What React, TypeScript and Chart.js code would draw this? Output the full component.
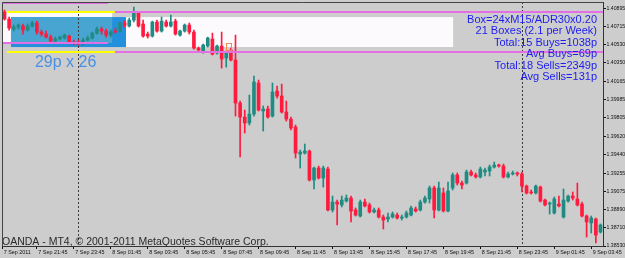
import React, { useEffect, useRef } from "react";
import { Chart, registerables } from "chart.js";

Chart.register(...registerables);

// ---- OHLC data, one entry per M15 bar (7 Sep 2011 20:00 -> 9 Sep 2011 04:15) ----
const opens = [
  1.40856, 1.40786, 1.40687, 1.40707, 1.40717, 1.40677, 1.40717, 1.40747, 1.40657, 1.40637,
  1.40607, 1.40568, 1.40588, 1.40598, 1.40617, 1.40558, 1.40558, 1.40538, 1.40578, 1.40598,
  1.40647, 1.40687, 1.40667, 1.40627, 1.40667, 1.40667, 1.40747, 1.40717, 1.40776, 1.40846,
  1.40737, 1.40637, 1.40617, 1.40757, 1.40667, 1.40757, 1.40717, 1.40766, 1.40627, 1.40667,
  1.40727, 1.40657, 1.40498, 1.40468, 1.40518, 1.40588, 1.40448, 1.40518, 1.40399, 1.40478,
  1.40379, 1.39951, 1.39812, 1.39753, 1.39842, 1.4015, 1.39872, 1.39892, 1.39822, 1.40071,
  1.40021, 1.39862, 1.39792, 1.39713, 1.39444, 1.39454, 1.39474, 1.39186, 1.39305, 1.39206,
  1.39295, 1.38888, 1.38967, 1.38938, 1.38977, 1.39007, 1.38888, 1.38828, 1.38967, 1.38938,
  1.38868, 1.38888, 1.38818, 1.38798, 1.38818, 1.38838, 1.38808, 1.38818, 1.38838, 1.38898,
  1.38888, 1.38967, 1.38997, 1.39107, 1.38888, 1.39057, 1.38878, 1.39107, 1.39236, 1.39156,
  1.39156, 1.39266, 1.39236, 1.39216, 1.39266, 1.39275, 1.39315, 1.39335, 1.39325, 1.39216,
  1.39246, 1.39256, 1.39246, 1.39126, 1.39067, 1.39057, 1.39116, 1.38987, 1.38947, 1.38858,
  1.38947, 1.38818, 1.38977, 1.39027, 1.38997, 1.38947, 1.38828, 1.38759, 1.38798, 1.38669,
];
const highs = [
  1.40876, 1.40806, 1.40727, 1.40737, 1.40737, 1.40737, 1.40766, 1.40766, 1.40677, 1.40667,
  1.40627, 1.40607, 1.40617, 1.40637, 1.40627, 1.40578, 1.40578, 1.40598, 1.40617, 1.40657,
  1.40707, 1.40707, 1.40687, 1.40677, 1.40697, 1.40757, 1.40766, 1.40796, 1.40906, 1.40856,
  1.40776, 1.40657, 1.40766, 1.40776, 1.40806, 1.40776, 1.40826, 1.40786, 1.40677, 1.40737,
  1.40747, 1.40677, 1.40508, 1.40538, 1.40607, 1.40647, 1.40528, 1.40657, 1.40458, 1.40498,
  1.40627, 1.39971, 1.39882, 1.40031, 1.4022, 1.4018, 1.39922, 1.39922, 1.4015, 1.4012,
  1.4014, 1.39971, 1.39812, 1.39733, 1.39484, 1.39544, 1.39484, 1.39315, 1.39325, 1.39325,
  1.39315, 1.39027, 1.38987, 1.39027, 1.39037, 1.39027, 1.38908, 1.38987, 1.38997, 1.38957,
  1.38908, 1.38908, 1.38838, 1.38858, 1.38868, 1.38858, 1.38838, 1.38878, 1.38928, 1.38918,
  1.38987, 1.39027, 1.39126, 1.39126, 1.39166, 1.39107, 1.39166, 1.39256, 1.39256, 1.39176,
  1.39285, 1.39285, 1.39256, 1.39315, 1.39305, 1.39335, 1.39365, 1.39345, 1.39345, 1.39266,
  1.39275, 1.39266, 1.39266, 1.39136, 1.39087, 1.39136, 1.39126, 1.38997, 1.38967, 1.39017,
  1.39027, 1.39097, 1.39037, 1.39067, 1.39156, 1.38967, 1.38838, 1.38828, 1.38808, 1.38749,
];
const lows = [
  1.40776, 1.40677, 1.40667, 1.40687, 1.40637, 1.40667, 1.40707, 1.40637, 1.40617, 1.40598,
  1.40548, 1.40558, 1.40578, 1.40588, 1.40538, 1.40528, 1.40528, 1.40528, 1.40568, 1.40588,
  1.40637, 1.40637, 1.40607, 1.40607, 1.40647, 1.40657, 1.40707, 1.40707, 1.40757, 1.40707,
  1.40607, 1.40598, 1.40607, 1.40657, 1.40657, 1.40707, 1.40707, 1.40627, 1.40617, 1.40657,
  1.40637, 1.40488, 1.40468, 1.40448, 1.40508, 1.40429, 1.40438, 1.40299, 1.40309, 1.40369,
  1.39822, 1.39415, 1.39653, 1.39733, 1.39822, 1.39872, 1.39673, 1.39802, 1.39812, 1.40001,
  1.39852, 1.39772, 1.39683, 1.39405, 1.39305, 1.39444, 1.39176, 1.39097, 1.39196, 1.39116,
  1.38878, 1.38868, 1.38739, 1.38918, 1.38967, 1.38769, 1.38828, 1.38818, 1.38918, 1.38858,
  1.38858, 1.38808, 1.38699, 1.38769, 1.38808, 1.38798, 1.38788, 1.38808, 1.38828, 1.38868,
  1.38878, 1.38957, 1.38957, 1.38808, 1.38878, 1.38868, 1.38868, 1.39087, 1.39136, 1.39097,
  1.39146, 1.39226, 1.39206, 1.39206, 1.39226, 1.39226, 1.39305, 1.39315, 1.39206, 1.39206,
  1.39236, 1.39226, 1.39067, 1.39047, 1.39047, 1.39047, 1.38967, 1.38928, 1.38848, 1.38848,
  1.38918, 1.38808, 1.38967, 1.38987, 1.38928, 1.38818, 1.38619, 1.38659, 1.3856, 1.38659,
];
const closes = [
  1.40786, 1.40697, 1.40707, 1.40727, 1.40677, 1.40717, 1.40747, 1.40657, 1.40637, 1.40607,
  1.40568, 1.40588, 1.40607, 1.40627, 1.40558, 1.40548, 1.40538, 1.40578, 1.40598, 1.40647,
  1.40687, 1.40667, 1.40627, 1.40657, 1.40657, 1.40747, 1.40727, 1.40776, 1.40846, 1.40717,
  1.40617, 1.40617, 1.40757, 1.40667, 1.40766, 1.40717, 1.40757, 1.40637, 1.40667, 1.40727,
  1.40657, 1.40498, 1.40478, 1.40528, 1.40598, 1.40438, 1.40518, 1.40389, 1.40448, 1.40379,
  1.39951, 1.39812, 1.39753, 1.39842, 1.4016, 1.39882, 1.39892, 1.39812, 1.40061, 1.40021,
  1.39862, 1.39792, 1.39703, 1.39454, 1.39464, 1.39474, 1.39186, 1.39305, 1.39206, 1.39305,
  1.38888, 1.38967, 1.38947, 1.38987, 1.39007, 1.38878, 1.38838, 1.38967, 1.38928, 1.38868,
  1.38888, 1.38818, 1.38788, 1.38818, 1.38848, 1.38808, 1.38818, 1.38858, 1.38908, 1.38878,
  1.38967, 1.39007, 1.39107, 1.38888, 1.39107, 1.38878, 1.39077, 1.39236, 1.39156, 1.39136,
  1.39266, 1.39236, 1.39216, 1.39295, 1.39285, 1.39315, 1.39335, 1.39325, 1.39216, 1.39246,
  1.39256, 1.39246, 1.39126, 1.39057, 1.39057, 1.39126, 1.38977, 1.38938, 1.38957, 1.38997,
  1.38928, 1.38987, 1.39027, 1.39007, 1.38938, 1.38828, 1.38769, 1.38808, 1.38639, 1.38739,
];

// ---- axes ----
const yTickValues = [
  1.40895, 1.40715, 1.4053, 1.4035, 1.40165, 1.39985, 1.39805,
  1.3962, 1.3944, 1.39255, 1.39075, 1.3889, 1.3871, 1.3853,
];
const xTickBars = [-0.5, 7, 15, 23, 31, 39, 47, 55, 63, 71, 79, 87, 95, 103, 111, 119, 127];
const xTickLabels = [
  "7 Sep 2011", "7 Sep 21:45", "7 Sep 23:45", "8 Sep 01:45", "8 Sep 03:45", "8 Sep 05:45",
  "8 Sep 07:45", "8 Sep 09:45", "8 Sep 11:45", "8 Sep 13:45", "8 Sep 15:45", "8 Sep 17:45",
  "8 Sep 19:45", "8 Sep 21:45", "8 Sep 23:45", "9 Sep 01:45", "9 Sep 03:45",
];

// ---- box indicator objects (bar index / price) ----
const boxBars = [1.4, 26.3];
const boxPrices = [1.40806, 1.40508];
const prevBoxBars = [-0.6, 23.3];
const prevBoxPrices = [1.40846, 1.40548];
const extensionBars = [26.3, 97.1];
const prevLineBars = [-0.6, 22.4];
const prevLinePrices = [1.40946, 1.40548];
const entryYellowBars = [0.5, 23.9];
const entryPinkBars = [23.9, 131];
const entryPrices = [1.40856, 1.40458];
const separatorBars = [16, 112];
const markerBar = [48.7];
const markerPrices = [1.40548, 1.40478];
const boxLabel = "29p x 26";
const statsLines = [
  "Box=24xM15/ADR30x0.20",
  "21 Boxes (2.1 per Week)",
  "Total:15 Buys=1038p",
  "Avg Buys=69p",
  "Total:18 Sells=2349p",
  "Avg Sells=131p",
];
const footerText = "OANDA - MT4, \u00A9 2001-2011 MetaQuotes Software Corp.";

// ---- styles ----
const BG = "#cdcdcd";
const BULL = "#1f8c84";
const BEAR = "#ff1a3e";
const PINK = "#e46fe4";
const YELLOW = "#ffff00";
const WHITE = "#fdfafd";
const BLUE = "#2290dc";
const BLUE_LIGHT = "#48a4d0";
const FONT = "'Liberation Sans', Arial, sans-serif";

const overlay = {
  id: "mt4overlay",
  beforeDraw(chart: any) {
    const ctx = chart.ctx;
    ctx.save();
    ctx.fillStyle = BG;
    ctx.fillRect(0, 0, chart.width, chart.height);
    ctx.restore();
  },
  beforeDatasetsDraw(chart: any) {
    const { ctx, chartArea: a, scales } = chart;
    const X = (v: number) => scales.x.getPixelForValue(v);
    const Y = (v: number) => scales.y.getPixelForValue(v);
    ctx.save();
    ctx.beginPath();
    ctx.rect(a.left, a.top, a.right - a.left, a.bottom - a.top);
    ctx.clip();
    const rect = (bars: number[], prices: number[], color: string) => {
      ctx.fillStyle = color;
      ctx.fillRect(X(bars[0]), Y(prices[0]), X(bars[1]) - X(bars[0]), Y(prices[1]) - Y(prices[0]));
    };
    rect(prevBoxBars, prevBoxPrices, WHITE);
    rect(boxBars, boxPrices, BLUE);
    rect([boxBars[0], prevBoxBars[1]], [boxPrices[0], prevBoxPrices[1]], BLUE_LIGHT);
    rect(extensionBars, boxPrices, WHITE);
    // period separators
    ctx.strokeStyle = "#3a3a3a";
    ctx.lineWidth = 1;
    ctx.setLineDash([2, 2]);
    separatorBars.forEach((b) => {
      const x = Math.round(X(b)) + 0.5;
      ctx.beginPath();
      ctx.moveTo(x, a.top);
      ctx.lineTo(x, a.bottom);
      ctx.stroke();
    });
    ctx.restore();
  },
  afterDatasetsDraw(chart: any) {
    const { ctx, chartArea: a, scales } = chart;
    const X = (v: number) => scales.x.getPixelForValue(v);
    const Y = (v: number) => scales.y.getPixelForValue(v);
    ctx.save();
    ctx.beginPath();
    ctx.rect(a.left, a.top, a.right - a.left, a.bottom - a.top);
    ctx.clip();
    const hline = (bars: number[], price: number, color: string) => {
      ctx.strokeStyle = color;
      ctx.lineWidth = 2;
      ctx.beginPath();
      const y = Math.round(Y(price));
      ctx.moveTo(X(bars[0]), y);
      ctx.lineTo(X(bars[1]), y);
      ctx.stroke();
    };
    prevLinePrices.forEach((p) => hline(prevLineBars, p, PINK));
    entryPrices.forEach((p) => hline(entryYellowBars, p, YELLOW));
    entryPrices.forEach((p) => hline(entryPinkBars, p, PINK));
    // sell marker
    ctx.strokeStyle = "#f08a50";
    ctx.lineWidth = 1;
    const mx = Math.round(X(markerBar[0]));
    ctx.strokeRect(mx - 2.5, Math.round(Y(markerPrices[0])) + 0.5, 5, Y(markerPrices[1]) - Y(markerPrices[0]));
    // box label
    ctx.fillStyle = "#4a8fe3";
    ctx.font = `16px ${FONT}`;
    ctx.textBaseline = "alphabetic";
    ctx.textAlign = "left";
    ctx.fillText(boxLabel, X(boxBars[0]) + 24, Y(boxPrices[1]) + 20);
    // stats text
    ctx.fillStyle = "#1c1cf0";
    ctx.font = `11px ${FONT}`;
    ctx.textAlign = "right";
    statsLines.forEach((t, i) => {
      ctx.fillText(t, a.right - 6, a.top + 20.7 + i * 11.46);
    });
    // footer
    ctx.fillStyle = "#2a2a2a";
    ctx.font = `10.5px ${FONT}`;
    ctx.textAlign = "left";
    ctx.fillText(footerText, a.left, a.bottom - 1.5);
    ctx.restore();
    // frame top/left
    ctx.save();
    ctx.strokeStyle = "#444";
    ctx.lineWidth = 1;
    ctx.beginPath();
    ctx.moveTo(a.left + 0.5, a.bottom);
    ctx.lineTo(a.left + 0.5, a.top + 0.5);
    ctx.lineTo(a.right, a.top + 0.5);
    ctx.stroke();
    ctx.restore();
  },
};

export default function App() {
  const ref = useRef<HTMLCanvasElement>(null);
  useEffect(() => {
    const canvas = ref.current;
    if (!canvas) return;
    const idx = opens.map((_, i) => i);
    const colors = idx.map((i) => (closes[i] >= opens[i] ? BULL : BEAR));
    const chart = new Chart(canvas, {
      type: "bar",
      data: {
        datasets: [
          {
            label: "body",
            data: idx.map((i) => ({ x: i, y: [opens[i], closes[i]] })) as any,
            backgroundColor: colors,
            borderWidth: 0,
            barThickness: 3,
            minBarLength: 1,
            grouped: false,
            order: 0,
          } as any,
          {
            label: "wick",
            data: idx.map((i) => ({ x: i, y: [lows[i], highs[i]] })) as any,
            backgroundColor: colors,
            borderWidth: 0,
            barThickness: 1,
            grouped: false,
            order: 1,
          } as any,
        ],
      },
      options: {
        animation: false,
        responsive: false,
        devicePixelRatio: 1,
        layout: { padding: { left: 2, top: 2, right: 0, bottom: 0 } },
        plugins: { legend: { display: false }, tooltip: { enabled: false } },
        scales: {
          x: {
            type: "linear",
            min: -0.541,
            max: 129.546,
            offset: false,
            bounds: "data",
            afterBuildTicks: (s: any) => {
              s.ticks = xTickBars.map((v) => ({ value: v }));
            },
            afterFit: (s: any) => {
              s.height = 12;
              s.paddingLeft = 0;
              s.paddingRight = 0;
            },
            grid: { drawOnChartArea: false, drawTicks: true, tickLength: 3, color: "#111", offset: false },
            border: { display: true, color: "#333" },
            ticks: {
              autoSkip: false,
              maxRotation: 0,
              minRotation: 0,
              align: "start",
              padding: 0,
              labelOffset: 1.5,
              color: "#111",
              font: { size: 5.4, family: FONT },
              callback: (_v: any, i: number) => xTickLabels[i],
            },
          } as any,
          y: {
            type: "linear",
            position: "right",
            min: 1.3853,
            max: 1.40956,
            beginAtZero: false,
            bounds: "data",
            afterBuildTicks: (s: any) => {
              s.ticks = yTickValues.map((v) => ({ value: v }));
            },
            afterFit: (s: any) => {
              s.width = 22;
              s.paddingTop = 0;
              s.paddingBottom = 0;
            },
            grid: { drawOnChartArea: false, drawTicks: true, tickLength: 3, color: "#111" },
            border: { display: true, color: "#333" },
            ticks: {
              autoSkip: false,
              padding: 0.5,
              color: "#111",
              font: { size: 5.2, family: FONT },
              callback: (v: any) => Number(v).toFixed(5),
            },
          } as any,
        },
      },
      plugins: [overlay as any],
    });
    return () => chart.destroy();
  }, []);
  return (
    <div style={{ position: "absolute", left: 0, top: 0, width: 625, height: 258 }}>
      <canvas ref={ref} width={625} height={258} style={{ display: "block", width: 625, height: 258 }} />
    </div>
  );
}
